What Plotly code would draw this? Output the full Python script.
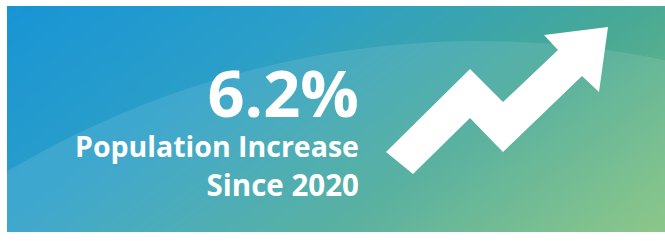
import numpy as np
import plotly.graph_objects as go

# ---- content ----
stat_value = [6.2]
stat_unit = ["%"]
label_lines = ["Population Increase", "Since 2020"]

# arrow icon outline (screen pixel space)
arrow_x = [386, 470, 503, 558, 544, 608, 599, 582, 503, 470, 413]
arrow_y = [152, 69, 102, 50, 35, 27, 92, 76, 152, 118, 174]

W, H = 665, 241          # visible card reference size
FW, FH = 690, 250        # figure slightly larger than the window so no gap shows
# coloured card area inside the white frame
CX0, CX1, CY0, CY1 = 7, FW, 6, 232

# background gradient grid (styling only)
gx = np.linspace(CX0, CX1, 14)
gy = np.linspace(CY0, CY1, 8)
GX, GY = np.meshgrid(gx, gy)
Z = np.clip((GX / W + 0.5 * GY / H) / 1.5, 0, 1)

fig = go.Figure()
fig.add_trace(go.Heatmap(
    x=gx, y=gy, z=Z, zsmooth="best", showscale=False, hoverinfo="skip",
    zmin=0, zmax=1,
    colorscale=[[0, "#1894d6"], [0.33, "#2b9fc8"], [0.66, "#48a995"], [1, "#82c27a"]],
))

# lighter arc overlay
cx, cy, a, b = 479, 1141, 1000, 1100
fig.add_shape(type="circle", xref="x", yref="y", x0=cx - a, x1=cx + a, y0=cy - b, y1=cy + b,
              fillcolor="rgba(255,255,255,0.10)", line=dict(width=0), layer="above")

# white frame outside card
for (x0, x1, y0, y1) in [(0, CX0, 0, FH), (0, FW, 0, CY0), (0, FW, CY1, FH)]:
    fig.add_shape(type="rect", xref="x", yref="y", x0=x0, x1=x1, y0=y0, y1=y1,
                  fillcolor="white", line=dict(width=0), layer="above")

# arrow
path = "M " + " L ".join(f"{x},{y}" for x, y in zip(arrow_x, arrow_y)) + " Z"
fig.add_shape(type="path", path=path, xref="x", yref="y", fillcolor="white",
              line=dict(width=0), layer="above")

font_family = "'Open Sans', Lato, sans-serif"
text = (
    f"<span style='font-size:65px'>{stat_value[0]:.1f}{stat_unit[0]}</span><br>"
    f"<span style='font-size:28.5px'>{label_lines[0]}</span><br>"
    f"<span style='font-size:29.5px'>{label_lines[1]}</span>"
)
fig.add_annotation(x=361, y=207.5, xref="x", yref="y", xanchor="right", yanchor="bottom",
                   align="right", text=text, showarrow=False,
                   font=dict(family=font_family, size=30.4, color="white", weight=700))

fig.update_layout(
    width=FW, height=FH, margin=dict(l=0, r=0, t=0, b=0),
    paper_bgcolor="white", plot_bgcolor="white",
    xaxis=dict(range=[0, FW], visible=False, fixedrange=True),
    yaxis=dict(range=[FH, 0], visible=False, fixedrange=True),
    showlegend=False,
)
fig.write_html(
    "out.html",
    config={"displayModeBar": False},
    post_script="document.body.style.margin='0';document.body.style.overflow='hidden';",
)
